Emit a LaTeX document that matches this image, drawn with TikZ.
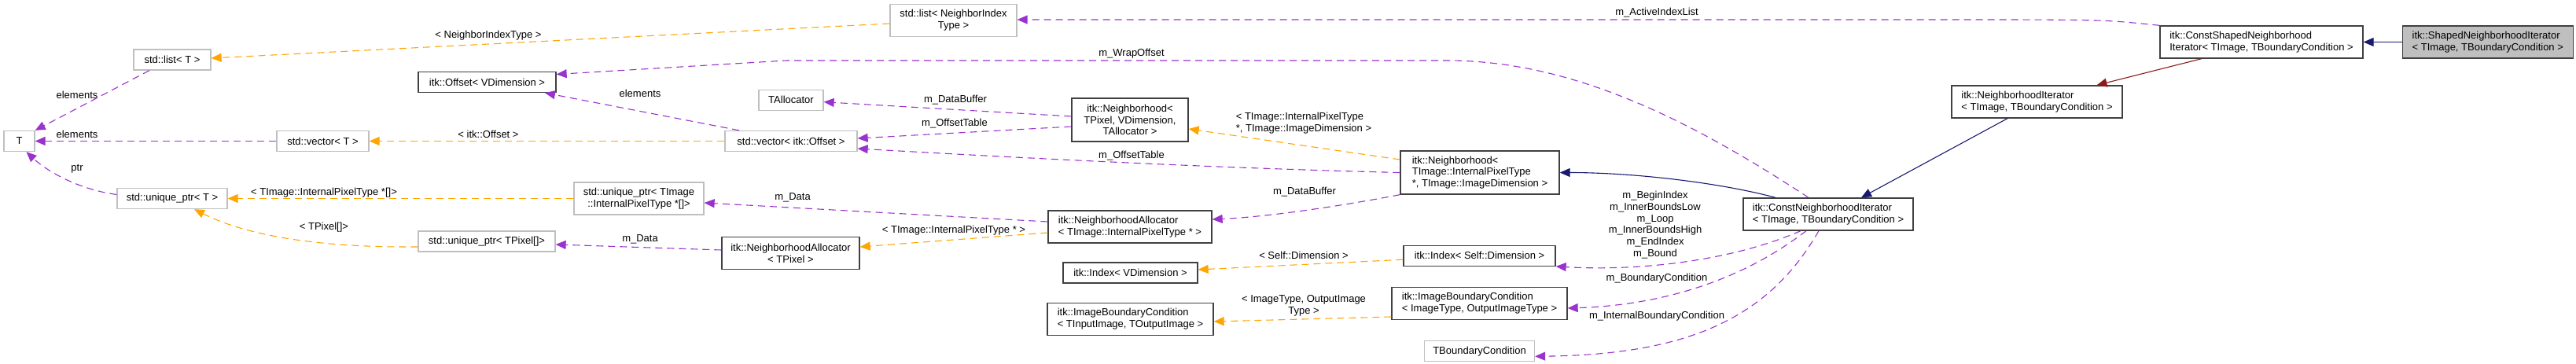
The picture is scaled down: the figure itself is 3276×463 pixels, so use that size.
\documentclass[tikz,border=0pt]{standalone}
\usepackage{fontspec}
\setmainfont{Liberation Sans}
\usepackage{tikz}
\usetikzlibrary{arrows.meta}
\usetikzlibrary{positioning}
\definecolor{usedpurple}{HTML}{9A32CD}
\definecolor{tmplorange}{HTML}{FFA500}
\definecolor{basenavy}{HTML}{191970}
\definecolor{protred}{HTML}{8B1A1A}
\definecolor{undocgray}{HTML}{BFBFBF}
\definecolor{docborder}{HTML}{404040}

\begin{document}
\begin{tikzpicture}[x=1pt, y=1pt, font=\fontsize{13}{14.8}\selectfont]

\tikzstyle{docclass} = [rectangle, draw=docborder, line width=1.3pt, inner sep=0pt, minimum height=26pt, fill=white]
\tikzstyle{extclass} = [rectangle, draw=undocgray, line width=1.3pt, inner sep=0pt, minimum height=26pt, fill=white]
\tikzstyle{twoline} = [minimum height=41pt]
\tikzstyle{threeline} = [minimum height=55pt]
\tikzstyle{focus} = [fill=undocgray]
\tikzstyle{lbl} = [inner sep=0pt]
\tikzstyle{usedby} = [usedpurple, line width=1.1pt, dash pattern=on 9pt off 6pt, -{Triangle[length=13pt,width=11pt]}]
\tikzstyle{tmplarg} = [tmplorange, line width=1.1pt, dash pattern=on 9pt off 6pt, -{Triangle[length=13pt,width=11pt]}]
\tikzstyle{pubbase} = [basenavy, line width=1.1pt, -{Triangle[length=13pt,width=11pt]}]
\tikzstyle{protbase} = [protred, line width=1.1pt, -{Triangle[length=13pt,width=11pt]}]

\useasboundingbox (0,0) rectangle (3276,463);

\node (constshaped) [docclass, twoline, minimum width=258pt, align=left] at (2876,409.5) {itk::ConstShapedNeighborhood\\Iterator< TImage, TBoundaryCondition >};
\node (shaped) [docclass, twoline, focus, minimum width=217pt, align=left, right=49pt of constshaped] {itk::ShapedNeighborhoodIterator\\< TImage, TBoundaryCondition >};
\node (nbhiter) [docclass, twoline, minimum width=217pt, align=left] at (2590.5,333.5) {itk::NeighborhoodIterator\\< TImage, TBoundaryCondition >};
\node (constnbhiter) [docclass, twoline, minimum width=216pt, align=left] at (2325,190.5) {itk::ConstNeighborhoodIterator\\< TImage, TBoundaryCondition >};
\node (nbhimage) [docclass, threeline, minimum width=202pt, align=left] at (1882,243.5) {itk::Neighborhood<\\ TImage::InternalPixelType\\*, TImage::ImageDimension >};
\node (bcimagetype) [docclass, twoline, minimum width=223pt, align=left] at (1881.5,77) {itk::ImageBoundaryCondition\\< ImageType, OutputImageType >};
\node (indexself) [docclass, minimum width=193pt, above=26pt of bcimagetype] {itk::Index< Self::Dimension >};
\node (tboundary) [extclass, minimum width=140pt, below=26pt of bcimagetype] {TBoundaryCondition};
\node (nbhpixel) [docclass, threeline, minimum width=148pt, align=center] at (1437,310.5) {itk::Neighborhood<\\TPixel, VDimension,\\TAllocator >};
\node (allocimage) [docclass, twoline, minimum width=208pt, align=left] at (1437,174.5) {itk::NeighborhoodAllocator\\< TImage::InternalPixelType * >};
\node (indexvdim) [docclass, minimum width=171pt] at (1437.5,116) {itk::Index< VDimension >};
\node (bcinput) [docclass, twoline, minimum width=211pt, align=left] at (1437.5,57) {itk::ImageBoundaryCondition\\< TInputImage, TOutputImage >};
\node (listnbr) [extclass, twoline, minimum width=161pt, align=center] at (1212.5,437) {std::list< NeighborIndex\\Type >};
\node (vectoroffset) [extclass, minimum width=168pt] at (1006,283.5) {std::vector< itk::Offset >};
\node (tallocator) [extclass, minimum width=82pt, above=25pt of vectoroffset] {TAllocator};
\node (allocpixel) [docclass, twoline, minimum width=175pt, align=center] at (1005.5,141) {itk::NeighborhoodAllocator\\< TPixel >};
\node (uniqimage) [extclass, twoline, minimum width=165pt, align=center] at (812.5,210.5) {std::unique\_ptr< TImage\\::InternalPixelType *[]>};
\node (offset) [docclass, minimum width=175pt] at (619.5,358.5) {itk::Offset< VDimension >};
\node (uniqpixel) [extclass, minimum width=174pt] at (619,156) {std::unique\_ptr< TPixel[]>};
\node (vectort) [extclass, minimum width=117pt] at (410.5,283.5) {std::vector< T >};
\node (listt) [extclass, minimum width=98pt] at (219,387) {std::list< T >};
\node (uniqt) [extclass, minimum width=140pt] at (219,210.5) {std::unique\_ptr< T >};
\node (t) [extclass, minimum width=39pt] at (24.5,283.5) {T};

\node (lactive) [lbl] at (2107,447) {m\_ActiveIndexList};
\node (lnbrtype) [lbl] at (621,418) {< NeighborIndexType >};
\node (lelemlist) [lbl] at (98,342) {elements};
\node (lelemvec) [lbl] at (98,292) {elements};
\node (lptr) [lbl] at (98,248) {ptr};
\node (loffsetarg) [lbl] at (621,292) {< itk::Offset >};
\node (lpixelptrarg) [lbl] at (412,218) {< TImage::InternalPixelType *[]>};
\node (ltpixelarg) [lbl] at (412,174) {< TPixel[]>};
\node (lelemoffset) [lbl] at (814,344) {elements};
\node (ldatabufpixel) [lbl] at (1215,336) {m\_DataBuffer};
\node (loffsettabpixel) [lbl] at (1214,306) {m\_OffsetTable};
\node (loffsettabimage) [lbl] at (1439,265) {m\_OffsetTable};
\node (lnbhargs) [lbl, align=left] at (1658,306) {< TImage::InternalPixelType\\*, TImage::ImageDimension >};
\node (ldatabufimage) [lbl] at (1659,219) {m\_DataBuffer};
\node (ldataimage) [lbl] at (1008,212) {m\_Data};
\node (lallocarg) [lbl] at (1213,170) {< TImage::InternalPixelType * >};
\node (ldatapixel) [lbl] at (814,159) {m\_Data};
\node (lselfdim) [lbl] at (1658,138) {< Self::Dimension >};
\node (lbcargs) [lbl, align=center] at (1658,74) {< ImageType, OutputImage\\Type >};
\node (lwrap) [lbl] at (1439,395) {m\_WrapOffset};
\node (lbounds) [lbl, align=center] at (2105,177) {m\_BeginIndex\\m\_InnerBoundsLow\\m\_Loop\\m\_InnerBoundsHigh\\m\_EndIndex\\m\_Bound};
\node (lbc) [lbl] at (2107,109) {m\_BoundaryCondition};
\node (linternalbc) [lbl] at (2107,61) {m\_InternalBoundaryCondition};

\draw [pubbase] (shaped) -- (constshaped);
\draw [protbase] ([xshift=-76pt]constshaped.south) -- ([xshift=76pt]nbhiter.north);
\draw [pubbase] ([xshift=-37.5pt]nbhiter.south) -- ([xshift=42pt]constnbhiter.north);
\draw [pubbase] ([xshift=-67pt]constnbhiter.north) .. controls (2190,230) and (2080,243.5) .. (nbhimage.east);
\draw [usedby] (constshaped.north west) .. controls (2680,437.5) .. (2560,438) -- ([yshift=1pt]listnbr.east);
\draw [usedby] ([xshift=-25pt]constnbhiter.north) .. controls (2150,310) and (2000,386) .. (1840,386) -- (1000,386) -- ([yshift=10pt]offset.east);
\draw [usedby] ([xshift=-35pt]constnbhiter.south) .. controls (2200,130) and (2080,118) .. (indexself.south east);
\draw [usedby] ([xshift=-28pt]constnbhiter.south) .. controls (2220,110) and (2120,75) .. ([yshift=-6pt]bcimagetype.east);
\draw [usedby] ([xshift=-12pt]constnbhiter.south) .. controls (2250,60) and (2150,12) .. ([yshift=-6.5pt]tboundary.east);
\draw [usedby] (nbhimage.west) .. controls (1550,249) and (1300,262) .. ([yshift=-9.5pt]vectoroffset.east);
\draw [tmplarg] ([yshift=16.5pt]nbhimage.west) -- ([yshift=-11.5pt]nbhpixel.east);
\draw [usedby] (nbhimage.south west) .. controls (1700,200) and (1610,187) .. ([yshift=9.5pt]allocimage.east);
\draw [tmplarg] ([yshift=-5pt]indexself.west) -- ([yshift=4pt]indexvdim.east);
\draw [tmplarg] ([yshift=-17pt]bcimagetype.west) -- ([yshift=-3pt]bcinput.east);
\draw [usedby] ([yshift=4.5pt]nbhpixel.west) -- ([yshift=-2.5pt]tallocator.east);
\draw [usedby] ([yshift=-8.5pt]nbhpixel.west) -- ([yshift=3.5pt]vectoroffset.east);
\draw [usedby] ([yshift=6.5pt]allocimage.west) -- ([yshift=-5.5pt]uniqimage.east);
\draw [tmplarg] ([yshift=-7.5pt]allocimage.west) -- ([yshift=8pt]allocpixel.east);
\draw [tmplarg] ([yshift=-4pt]listnbr.west) -- ([yshift=2pt]listt.east);
\draw [usedby] ([xshift=-66pt]vectoroffset.north) -- ([xshift=73.5pt]offset.south);
\draw [tmplarg] (vectoroffset) -- (vectort);
\draw [usedby] ([yshift=4pt]allocpixel.west) -- ([yshift=-4pt]uniqpixel.east);
\draw [tmplarg] (uniqimage) -- (uniqt);
\draw [tmplarg] ([yshift=-7pt]uniqpixel.west) .. controls (420,148) and (320,160) .. ([xshift=28pt]uniqt.south);
\draw [usedby] ([xshift=-29pt]listt.south) -- (t.north east);
\draw [usedby] (vectort) -- (t);
\draw [usedby] ([yshift=5pt]uniqt.west) .. controls (100,222) and (60,245) .. ([xshift=9pt]t.south);
\end{tikzpicture}
\end{document}
